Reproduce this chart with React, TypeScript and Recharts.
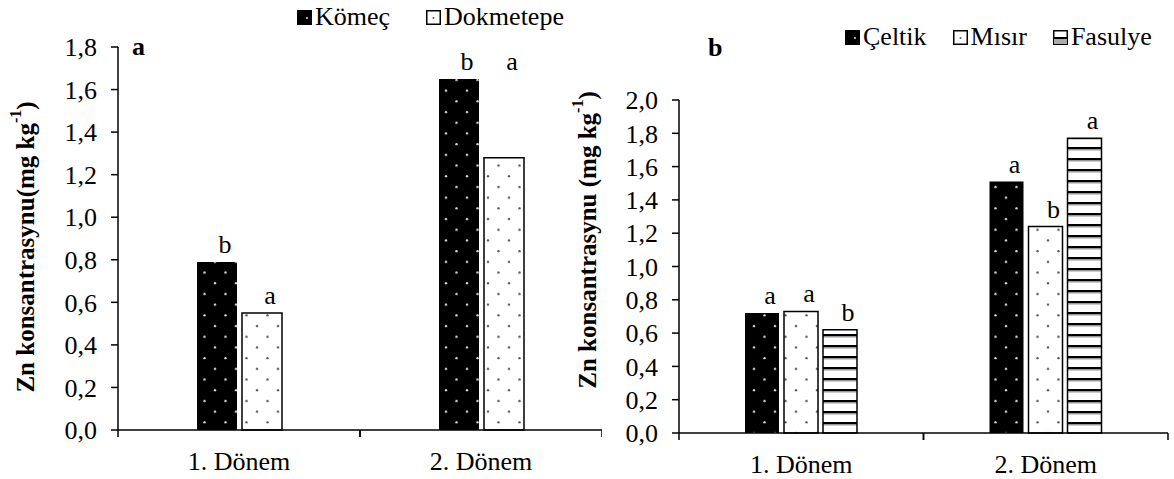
import React from "react";
import { BarChart, Bar, XAxis, YAxis, Legend, LabelList } from "recharts";

const categories = ["1. Dönem", "2. Dönem"];

// panel a
const komec = [0.79, 1.65];
const dokmetepe = [0.55, 1.28];
const komecLetters = ["b", "b"];
const dokmetepeLetters = ["a", "a"];
const dokmetepeLetterAt: (number | null)[] = [null, 1.65];
const ticksA = [0, 0.2, 0.4, 0.6, 0.8, 1.0, 1.2, 1.4, 1.6, 1.8];

// panel b
const celtik = [0.72, 1.51];
const misir = [0.73, 1.24];
const fasulye = [0.62, 1.77];
const celtikLetters = ["a", "a"];
const misirLetters = ["a", "b"];
const fasulyeLetters = ["b", "a"];
const ticksB = [0, 0.2, 0.4, 0.6, 0.8, 1.0, 1.2, 1.4, 1.6, 1.8, 2.0];

const dataA = categories.map((name, i) => ({ name, komec: komec[i], dokmetepe: dokmetepe[i] }));
const dataB = categories.map((name, i) => ({
  name,
  celtik: celtik[i],
  misir: misir[i],
  fasulye: fasulye[i],
}));

const FONT = '"Liberation Serif", "Times New Roman", serif';
const fmt = (v: number) => v.toFixed(1).replace(".", ",");

const Patterns = ({ id }: { id: string }) => (
  <defs>
    <pattern id={`blackDots${id}`} patternUnits="userSpaceOnUse" width={21} height={21.4}>
      <rect width={21} height={21.4} fill="#000" />
      <circle cx={5} cy={5} r={1.2} fill="#ddd" />
      <circle cx={15.5} cy={15.7} r={1.2} fill="#ddd" />
    </pattern>
    <pattern id={`whiteDots${id}`} patternUnits="userSpaceOnUse" width={21} height={21.4}>
      <rect width={21} height={21.4} fill="#fff" />
      <circle cx={5} cy={5} r={1.2} fill="#555" />
      <circle cx={15.5} cy={15.7} r={1.2} fill="#555" />
    </pattern>
    <pattern id={`stripes${id}`} patternUnits="userSpaceOnUse" width={10} height={11}>
      <rect width={10} height={11} fill="#fff" />
      <rect y={4} width={10} height={2} fill="#000" />
      <rect y={6} width={10} height={1.5} fill="#999" />
    </pattern>
  </defs>
);

const letterLabel =
  (letters: string[], values: number[], levels?: (number | null)[]) => (props: any) => {
    const x = Number(props.x);
    const y = Number(props.y);
    const w = Number(props.width);
    const h = Number(props.height);
    const i = props.index;
    let top = y;
    const lvl = levels ? levels[i] : null;
    if (lvl != null) top = y + h - (lvl * h) / values[i];
    return (
      <text x={x + w / 2 + 8} y={top - 9} textAnchor="middle" fontSize={26} fontFamily={FONT} fill="#000">
        {letters[i]}
      </text>
    );
  };

const CatTick = (props: any) => {
  const { x, y, payload, half } = props;
  return (
    <g>
      <line x1={x - half} x2={x - half} y1={y} y2={y + 7} stroke="#000" strokeWidth={1.5} />
      <line x1={x + half} x2={x + half} y1={y} y2={y + 7} stroke="#000" strokeWidth={1.5} />
      <text x={x} y={y + 40} textAnchor="middle" fontSize={26} fontFamily={FONT} fill="#000">
        {payload.value}
      </text>
    </g>
  );
};

const Icon = ({ kind }: { kind: string }) => (
  <svg width={15} height={15} style={{ marginRight: 3 }}>
    {kind === "black" && (
      <g>
        <rect width={15} height={15} fill="#000" />
        <circle cx={10} cy={8} r={1} fill="#ddd" />
      </g>
    )}
    {kind === "white" && (
      <g>
        <rect x={0.75} y={0.75} width={13.5} height={13.5} fill="#fff" stroke="#000" strokeWidth={1.5} />
        <circle cx={7.5} cy={8} r={1} fill="#555" />
      </g>
    )}
    {kind === "stripes" && (
      <g>
        <rect x={0.75} y={0.75} width={13.5} height={13.5} fill="#fff" stroke="#000" strokeWidth={1.5} />
        <rect x={1} y={7} width={13} height={2} fill="#000" />
        <rect x={1} y={9} width={13} height={5} fill="#aaa" />
      </g>
    )}
  </svg>
);

const legendContent = (items: { label: string; kind: string }[], gap: number) => () => (
  <div style={{ display: "flex", alignItems: "center", fontFamily: FONT, fontSize: 26, color: "#000", whiteSpace: "nowrap" }}>
    {items.map((it) => (
      <div key={it.label} style={{ display: "flex", alignItems: "center", marginRight: gap }}>
        <Icon kind={it.kind} />
        <span>{it.label}</span>
      </div>
    ))}
  </div>
);

const axisTitle = (cx: number, cy: number, text: string) => (
  <text
    x={cx}
    y={cy}
    transform={`rotate(-90, ${cx}, ${cy})`}
    textAnchor="middle"
    dominantBaseline="central"
    fontSize={25}
    fontWeight="bold"
    fontFamily={FONT}
    fill="#000"
  >
    {text}
    <tspan dy={-10} fontSize={16}>-1</tspan>
    <tspan dy={10}>)</tspan>
  </text>
);

const tickStyle = { fontSize: 26, fill: "#000", fontFamily: FONT };

export default function App() {
  const wA = 602;
  const yWA = 118;
  const halfA = (wA - yWA) / categories.length / 2;
  const leftB = 560;
  const wB = 614;
  const yWB = 119;
  const rightB = 6;
  const halfB = (wB - yWB - rightB) / categories.length / 2;

  return (
    <div style={{ position: "absolute", left: 0, top: 0, width: 1174, height: 479, background: "#fff" }}>
      <div style={{ position: "absolute", left: 0, top: 0 }}>
        <BarChart width={wA} height={479} data={dataA} margin={{ top: 47, right: 0, bottom: 9, left: 0 }} barSize={40} barGap={5}>
          <Patterns id="A" />
          <XAxis
            dataKey="name"
            height={40}
            interval={0}
            tickLine={false}
            tickSize={0}
            tickMargin={0}
            axisLine={{ stroke: "#000", strokeWidth: 1.5 }}
            tick={<CatTick half={halfA} />}
          />
          <YAxis
            width={yWA}
            domain={[0, 1.8]}
            ticks={ticksA}
            tickFormatter={fmt}
            tickSize={7}
            tickMargin={14}
            tick={tickStyle}
            axisLine={{ stroke: "#000", strokeWidth: 1.5 }}
            tickLine={{ stroke: "#000", strokeWidth: 1.5 }}
            interval={0}
          />
          <Legend
            layout="vertical"
            align="center"
            verticalAlign="middle"
            wrapperStyle={{ top: 2, left: 297, width: "auto" }}
            content={legendContent(
              [
                { label: "Kömeç", kind: "black" },
                { label: "Dokmetepe", kind: "white" },
              ],
              36
            )}
          />
          <Bar dataKey="komec" name="Kömeç" fill="url(#blackDotsA)" isAnimationActive={false}>
            <LabelList dataKey="komec" content={letterLabel(komecLetters, komec)} />
          </Bar>
          <Bar dataKey="dokmetepe" name="Dokmetepe" fill="url(#whiteDotsA)" stroke="#000" strokeWidth={1.5} isAnimationActive={false}>
            <LabelList dataKey="dokmetepe" content={letterLabel(dokmetepeLetters, dokmetepe, dokmetepeLetterAt)} />
          </Bar>
          {axisTitle(25, 247, "Zn konsantrasynu(mg kg")}
          <text x={132} y={55} fontSize={26} fontWeight="bold" fontFamily={FONT} fill="#000">a</text>
        </BarChart>
      </div>
      <div style={{ position: "absolute", left: leftB, top: 0 }}>
        <BarChart width={wB} height={479} data={dataB} margin={{ top: 100, right: rightB, bottom: 6, left: 0 }} barSize={34} barGap={5}>
          <Patterns id="B" />
          <XAxis
            dataKey="name"
            height={40}
            interval={0}
            tickLine={false}
            tickSize={0}
            tickMargin={0}
            axisLine={{ stroke: "#000", strokeWidth: 1.5 }}
            tick={<CatTick half={halfB} />}
          />
          <YAxis
            width={yWB}
            domain={[0, 2.0]}
            ticks={ticksB}
            tickFormatter={fmt}
            tickSize={7}
            tickMargin={14}
            tick={tickStyle}
            axisLine={{ stroke: "#000", strokeWidth: 1.5 }}
            tickLine={{ stroke: "#000", strokeWidth: 1.5 }}
            interval={0}
          />
          <Legend
            layout="vertical"
            align="center"
            verticalAlign="middle"
            wrapperStyle={{ top: 22, left: 845 - leftB, width: "auto" }}
            content={legendContent(
              [
                { label: "Çeltik", kind: "black" },
                { label: "Mısır", kind: "white" },
                { label: "Fasulye", kind: "stripes" },
              ],
              26
            )}
          />
          <Bar dataKey="celtik" name="Çeltik" fill="url(#blackDotsB)" isAnimationActive={false}>
            <LabelList dataKey="celtik" content={letterLabel(celtikLetters, celtik)} />
          </Bar>
          <Bar dataKey="misir" name="Mısır" fill="url(#whiteDotsB)" stroke="#000" strokeWidth={1.5} isAnimationActive={false}>
            <LabelList dataKey="misir" content={letterLabel(misirLetters, misir)} />
          </Bar>
          <Bar dataKey="fasulye" name="Fasulye" fill="url(#stripesB)" stroke="#000" strokeWidth={1.5} isAnimationActive={false}>
            <LabelList dataKey="fasulye" content={letterLabel(fasulyeLetters, fasulye)} />
          </Bar>
          {axisTitle(27, 240, "Zn konsantrasynu (mg kg")}
          <text x={148} y={56} fontSize={26} fontWeight="bold" fontFamily={FONT} fill="#000">b</text>
        </BarChart>
      </div>
    </div>
  );
}
